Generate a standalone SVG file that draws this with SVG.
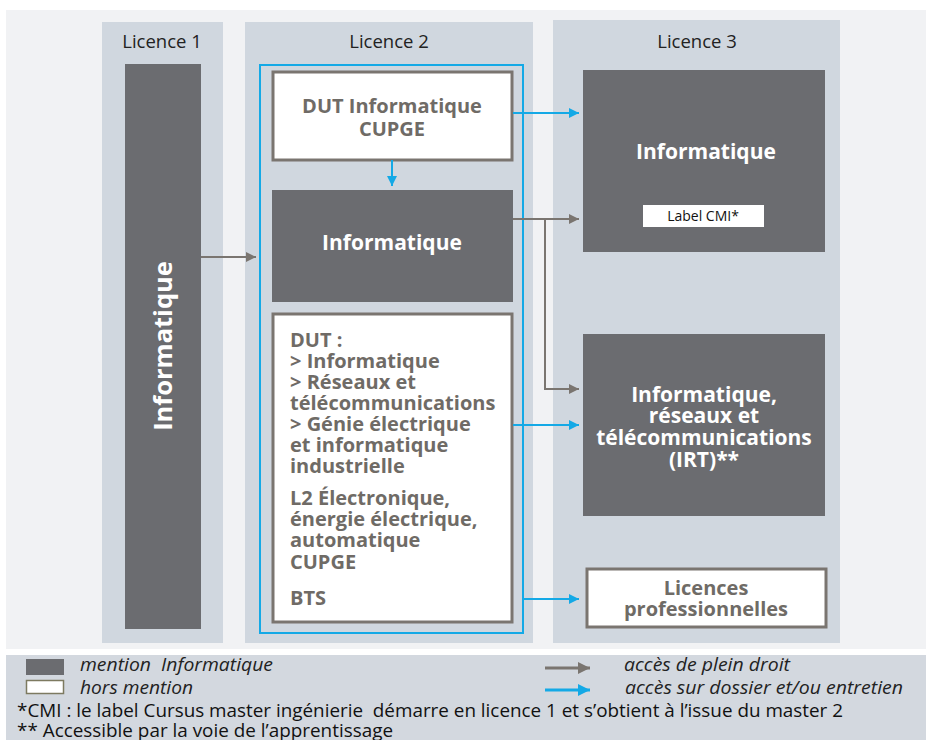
<svg xmlns="http://www.w3.org/2000/svg" width="926" height="740" viewBox="0 0 926 740">
<defs>
<style>
.col{fill:#d0d7df}
.dark{fill:#6b6c70}
.white{fill:#ffffff;stroke:#7a7570;stroke-width:3}
.hdr{font-family:"Open Sans","Liberation Sans",sans-serif;font-size:18.5px;fill:#222;text-anchor:middle}
.bw{font-family:"Open Sans","Liberation Sans",sans-serif;font-size:21px;font-weight:bold;fill:#ffffff;text-anchor:middle}
.bg{font-family:"Open Sans","Liberation Sans",sans-serif;font-size:20px;font-weight:bold;fill:#6f6b66}
.leg{font-family:"Open Sans","Liberation Sans",sans-serif;font-size:18px;font-style:italic;fill:#222}
.note{font-family:"Open Sans","Liberation Sans",sans-serif;font-size:17.5px;fill:#111}
.gray{fill:none;stroke:#7a7570;stroke-width:2}
.blue{fill:none;stroke:#14a9e6;stroke-width:2}
</style>
<marker id="ag" viewBox="0 0 10 10" refX="10" refY="5" markerWidth="10" markerHeight="10" markerUnits="userSpaceOnUse" orient="auto"><path d="M0,0 L10,5 L0,10 Z" fill="#7a7570"/></marker>
<marker id="ab" viewBox="0 0 10 10" refX="10" refY="5" markerWidth="10" markerHeight="10" markerUnits="userSpaceOnUse" orient="auto"><path d="M0,0 L10,5 L0,10 Z" fill="#14a9e6"/></marker>
<marker id="agl" viewBox="0 0 10 10" refX="10" refY="5" markerWidth="14" markerHeight="12" markerUnits="userSpaceOnUse" orient="auto"><path d="M0,0 L10,5 L0,10 Z" fill="#7a7570"/></marker>
<marker id="abl" viewBox="0 0 10 10" refX="10" refY="5" markerWidth="14" markerHeight="12" markerUnits="userSpaceOnUse" orient="auto"><path d="M0,0 L10,5 L0,10 Z" fill="#14a9e6"/></marker>
</defs>
<rect x="0" y="0" width="926" height="740" fill="#ffffff"/>
<rect x="6" y="10" width="920" height="639" fill="#f1f2f4"/>
<g id="columns">
<rect class="col" x="102" y="22" width="121" height="621"/>
<rect class="col" x="245" y="22" width="288" height="621"/>
<rect class="col" x="553" y="20" width="287" height="623"/>
<text class="hdr" x="162" y="48">Licence 1</text>
<text class="hdr" x="389" y="48">Licence 2</text>
<text class="hdr" x="697" y="48">Licence 3</text>
</g>
<g id="frame-l2"><rect x="260" y="65" width="263" height="568" fill="none" stroke="#14a9e6" stroke-width="2"/></g>
<g id="n-l1-info">
<rect class="dark" x="125" y="64" width="76" height="565"/>
<text class="bw" transform="translate(172,346) rotate(-90)" style="font-size:25.5px">Informatique</text>
</g>
<g id="n-dut-info">
<rect class="white" x="273" y="72" width="239" height="88"/>
<text class="bg" x="392" y="113" text-anchor="middle">DUT Informatique</text>
<text class="bg" x="392" y="136" text-anchor="middle">CUPGE</text>
</g>
<g id="n-l2-info">
<rect class="dark" x="272" y="190" width="241" height="112"/>
<text class="bw" x="392" y="250">Informatique</text>
</g>
<g id="n-dut">
<rect class="white" x="273" y="314" width="239" height="308"/>
<text class="bg" x="290" y="347">DUT :</text>
<text class="bg" x="290" y="368">&gt; Informatique</text>
<text class="bg" x="290" y="389">&gt; Réseaux et</text>
<text class="bg" x="290" y="410">télécommunications</text>
<text class="bg" x="290" y="431">&gt; Génie électrique</text>
<text class="bg" x="290" y="452">et informatique</text>
<text class="bg" x="290" y="473">industrielle</text>
<text class="bg" x="290" y="505">L2 Électronique,</text>
<text class="bg" x="290" y="526">énergie électrique,</text>
<text class="bg" x="290" y="547">automatique</text>
<text class="bg" x="290" y="569">CUPGE</text>
<text class="bg" x="290" y="605">BTS</text>
</g>
<g id="n-l3-info">
<rect class="dark" x="583" y="70" width="242" height="182"/>
<text class="bw" x="706" y="159">Informatique</text>
<rect x="643" y="205" width="121" height="22" fill="#ffffff"/>
<text x="703" y="221" font-family="'Open Sans','Liberation Sans',sans-serif" font-size="14" fill="#111" text-anchor="middle">Label CMI*</text>
</g>
<g id="n-irt">
<rect class="dark" x="583" y="334" width="242" height="182"/>
<text class="bw" x="704" y="402">Informatique,</text>
<text class="bw" x="704" y="423">réseaux et</text>
<text class="bw" x="704" y="445">télécommunications</text>
<text class="bw" x="704" y="467">(IRT)**</text>
</g>
<g id="n-lp">
<rect class="white" x="587" y="569" width="239" height="58"/>
<text class="bg" x="706" y="595" text-anchor="middle">Licences</text>
<text class="bg" x="706" y="616" text-anchor="middle">professionnelles</text>
</g>
<g id="connectors">
<path class="gray" d="M201,257 H256" marker-end="url(#ag)"/>
<path class="blue" d="M392,160 V186" marker-end="url(#ab)"/>
<path class="blue" d="M513,113 H579" marker-end="url(#ab)"/>
<path class="gray" d="M513,219 H579" marker-end="url(#ag)"/>
<path class="gray" d="M545,219 V389 H579" marker-end="url(#ag)"/>
<path class="blue" d="M513,425 H579" marker-end="url(#ab)"/>
<path class="blue" d="M523,599 H579" marker-end="url(#ab)"/>
</g>
<g id="legend">
<rect x="6" y="655" width="920" height="85" fill="#d3d8df"/>
<rect x="26" y="659" width="38" height="16" fill="#6b6c70"/>
<rect x="26.5" y="680.5" width="37" height="13" fill="#ffffff" stroke="#7d7a60" stroke-width="1.5"/>
<text class="leg" x="80" y="671" xml:space="preserve" textLength="193" lengthAdjust="spacingAndGlyphs">mention  Informatique</text>
<text class="leg" x="80" y="694" textLength="113" lengthAdjust="spacingAndGlyphs">hors mention</text>
<path d="M545,668 H590" fill="none" stroke="#7a7570" stroke-width="3" marker-end="url(#agl)"/>
<path d="M545,690 H590" fill="none" stroke="#14a9e6" stroke-width="3" marker-end="url(#abl)"/>
<text class="leg" x="624" y="671" textLength="166" lengthAdjust="spacingAndGlyphs">accès de plein droit</text>
<text class="leg" x="625" y="694" textLength="278" lengthAdjust="spacingAndGlyphs">accès sur dossier et/ou entretien</text>
<text class="note" x="17" y="717" xml:space="preserve" textLength="826" lengthAdjust="spacingAndGlyphs">*CMI : le label Cursus master ingénierie  démarre en licence 1 et s’obtient à l’issue du master 2</text>
<text class="note" x="17" y="737" textLength="376" lengthAdjust="spacingAndGlyphs">** Accessible par la voie de l’apprentissage</text>
</g>
</svg>
